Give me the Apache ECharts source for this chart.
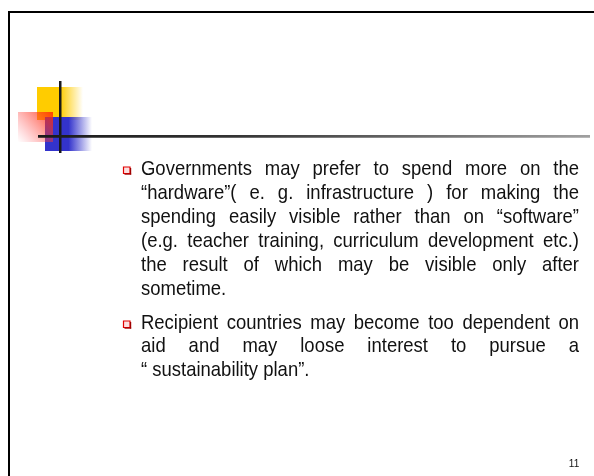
<!DOCTYPE html>
<html><head><meta charset="utf-8">
<script src="https://cdn.jsdelivr.net/npm/echarts@6/dist/echarts.min.js"></script>
<style>html,body{margin:0;padding:0;background:#fff}#c{width:594px;height:476px}</style>
</head><body><div id="c"></div>
<script>
// Slide text lines (as wrapped in the reference)
var para1Lines = [
  "Governments may prefer to spend more on the",
  "\u201chardware\u201d( e. g. infrastructure ) for making the",
  "spending easily visible rather than on \u201csoftware\u201d",
  "(e.g. teacher training,  curriculum development etc.)",
  "the result of which may be visible only after",
  "sometime."
];
var para2Lines = [
  "Recipient countries may become too dependent on",
  "aid and may loose interest to pursue a",
  "\u201c sustainability plan\u201d."
];
var pageNumber = ["11"];

var FONT_SIZE = 21, SX = 0.88, FAMILY = '"Liberation Sans", Arial, sans-serif';
var TEXT_LEFT = 141, TEXT_RIGHT = 579;
var ctx = document.createElement('canvas').getContext('2d');
ctx.font = FONT_SIZE + 'px ' + FAMILY;
function w(s){ return ctx.measureText(s).width * SX; }

var g = [];
// frame lines
g.push({type:'rect', shape:{x:8,y:11,width:2,height:465}, style:{fill:'#000'}});
g.push({type:'rect', shape:{x:8,y:11,width:586,height:2}, style:{fill:'#000'}});
// decorative squares
g.push({type:'rect', shape:{x:37,y:87,width:46,height:33}, style:{fill:new echarts.graphic.LinearGradient(0,0,1,0,[{offset:0,color:'#FFCC00'},{offset:0.5,color:'#FFCC00'},{offset:1,color:'rgba(255,204,0,0)'}])}});
g.push({type:'rect', shape:{x:45,y:117,width:47,height:34}, style:{fill:new echarts.graphic.LinearGradient(0,0,1,0,[{offset:0,color:'#3333CC'},{offset:0.5,color:'#3333CC'},{offset:1,color:'rgba(51,51,204,0)'}])}});
g.push({type:'rect', shape:{x:18,y:112,width:35,height:30}, style:{fill:new echarts.graphic.LinearGradient(1,0,0,1,[{offset:0,color:'rgba(255,40,0,0.85)'},{offset:1,color:'rgba(255,80,100,0)'}])}});
// cross lines
g.push({type:'rect', shape:{x:59,y:81,width:2.5,height:72}, style:{fill:'#1a1a1a'}});
g.push({type:'rect', shape:{x:38,y:135,width:552,height:2.8}, style:{fill:new echarts.graphic.LinearGradient(0,0,1,0,[{offset:0,color:'#1a1a1a'},{offset:0.35,color:'#333'},{offset:1,color:'#a0a0a0'}])}});

function addPara(lines, firstBaseline, lh){
  var by = firstBaseline - 5.5;
  g.push({type:'rect', shape:{x:123.5,y:by-3.5,width:6.5,height:6.5}, style:{fill:'#fde0e0', stroke:'#e00000', lineWidth:1.2}});
  g.push({type:'rect', shape:{x:130,y:by-2.5,width:1.2,height:6.5}, style:{fill:'#a00000'}});
  g.push({type:'rect', shape:{x:124.5,y:by+3,width:6.7,height:1.2}, style:{fill:'#a00000'}});
  lines.forEach(function(line, i){
    var y = firstBaseline + i*lh - 7;
    var words = line.split(/ +/);
    var last = (i === lines.length - 1);
    var total = 0; words.forEach(function(s){ total += w(s); });
    var gap = last || words.length < 2 ? w(' ') : (TEXT_RIGHT - TEXT_LEFT - total) / (words.length - 1);
    var x = TEXT_LEFT;
    words.forEach(function(s){
      g.push({type:'text', x:x, y:y, scaleX:SX, style:{text:s, font:FONT_SIZE+'px '+FAMILY, fill:'#111', align:'left', verticalAlign:'middle'}});
      x += w(s) + gap;
    });
  });
}
addPara(para1Lines, 176, 24);
addPara(para2Lines, 330, 23.4);

g.push({type:'text', x:574, y:464, style:{text:pageNumber[0], font:'10px '+FAMILY, fill:'#111', align:'center', verticalAlign:'middle'}});

var chart = echarts.init(document.getElementById('c'), null, {renderer:'canvas'});
chart.setOption({backgroundColor:'#fff', animation:false, graphic:g});
</script></body></html>
